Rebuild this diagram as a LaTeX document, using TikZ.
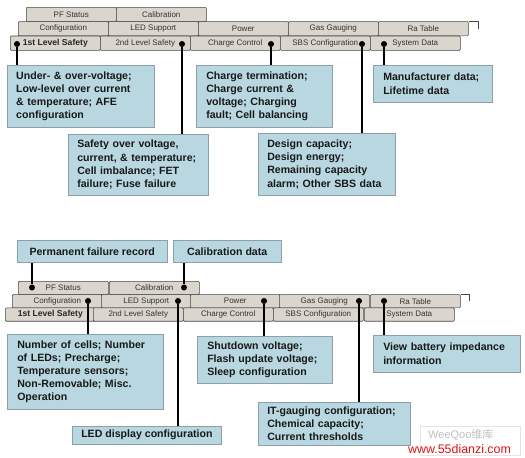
\documentclass[tikz,border=0pt]{standalone}
\usepackage{fontspec}
\setmainfont{Liberation Sans}
\newfontfamily\cjk{Noto Sans CJK SC}
\definecolor{boxblue}{RGB}{184,215,224}
\definecolor{boxedge}{RGB}{140,160,168}
\definecolor{tabgray}{RGB}{218,214,206}
\definecolor{tabedge}{RGB}{70,70,70}
\definecolor{inktext}{RGB}{25,25,25}
\definecolor{wmred}{RGB}{220,20,20}
\begin{document}
\begin{tikzpicture}[x=1pt,y=-1pt,
  tab/.style={draw=tabedge, line width=0.6pt, fill=tabgray, minimum width=90pt, minimum height=#1, inner sep=0pt, anchor=north west, rounded corners=1pt, font=\fontsize{8}{9}\selectfont, text=black!80},
  tab/.default=14.3pt,
  tabbold/.style={tab=#1, font=\bfseries\fontsize{8.6}{9}\selectfont, text=black!85},
  tabbold/.default=14.3pt,
  info/.style={draw=boxedge, line width=0.5pt, fill=boxblue, anchor=north west, inner xsep=9pt, inner ysep=3pt, align=left, font=\bfseries\fontsize{10.6}{13.2}\selectfont, text=inktext},
  blackdot/.style={circle, fill=black, inner sep=0pt, minimum size=6pt},
  link/.style={draw=black, line width=1.1pt},
  stub/.style={draw=tabedge, line width=0.6pt}
]
\useasboundingbox[fill=white] (0,0) rectangle (525,458);

% ================= upper tab set =================
\node[tab] (tpf)  at (26,7) {PF Status};
\node[tab] (tcal) at (116,7) {Calibration};
\node[tab] (tconf) at (18,21.3) {Configuration};
\node[tab] (tled)  at (108,21.3) {LED Support};
\node[tab] (tpow)  at (198,21.3) {Power};
\node[tab] (tgas)  at (288,21.3) {Gas Gauging};
\node[tab] (tra)   at (378,21.3) {Ra Table};
\draw[stub] (tra.north east) -- ++(10,0) -- ++(0,8);
\node[tabbold] (tfirst)  at (10,35.7) {1st Level Safety};
\node[tab] (tsecond) at (100,35.7) {2nd Level Safety};
\node[tab] (tcharge) at (190,35.7) {Charge Control};
\node[tab] (tsbs)    at (280,35.7) {SBS Configuration};
\node[tab] (tsys)    at (370,35.7) {System Data};

\node[blackdot] (dfirst)  at (17,44) {};
\node[blackdot] (dsecond) at (182,44) {};
\node[blackdot] (dcharge) at (271,44) {};
\node[blackdot] (dsbs)    at (362,44) {};
\node[blackdot] (dsys)    at (384,44) {};

\node[info, minimum width=147pt, minimum height=62pt, text width=129pt] (bA) at (7,65)
  {Under- \& over-voltage;\\Low-level over current\\\& temperature; AFE\\configuration};
\node[info, minimum width=140pt, minimum height=61pt, text width=122pt] (bB) at (68,134)
  {Safety over voltage,\\current, \& temperature;\\Cell imbalance; FET\\failure; Fuse failure};
\node[info, minimum width=136pt, minimum height=62pt, inner xsep=10pt, text width=116pt] (bC) at (196,65)
  {Charge termination;\\Charge current \&\\voltage; Charging\\fault; Cell balancing};
\node[info, minimum width=137pt, minimum height=62pt, text width=119pt] (bD) at (258,133)
  {Design capacity;\\Design energy;\\Remaining capacity\\alarm; Other SBS data};
\node[info, minimum width=119pt, minimum height=37pt, inner xsep=10pt, text width=99pt] (bE) at (373,65)
  {Manufacturer data;\\Lifetime data};

\draw[link] (dfirst)  -- (dfirst |- bA.north);
\draw[link] (dsecond) -- (dsecond |- bB.north);
\draw[link] (dcharge) -- (dcharge |- bC.north);
\draw[link] (dsbs)    -- (dsbs |- bD.north);
\draw[link] (dsys)    -- (dsys |- bE.north);

% ================= lower tab set =================
\node[info, minimum width=150pt, minimum height=22pt] (bP) at (17,240)
  {Permanent failure record};
\node[info, minimum width=108pt, minimum height=22pt] (bQ) at (173,240)
  {Calibration data};

\node[tab=13.3pt] (upf)  at (18,281) {PF Status};
\node[tab=13.3pt] (ucal) at (109,281) {Calibration};
\node[tab=13.3pt] (uconf) at (12,294.3) {Configuration};
\node[tab=13.3pt] (uled)  at (101,294.3) {LED Support};
\node[tab=13.3pt] (upow)  at (190,294.3) {Power};
\node[tab=13.3pt] (ugas)  at (279,294.3) {Gas Gauging};
\node[tab=13.3pt] (ura)   at (370,294.3) {Ra Table};
\draw[stub] (ura.north east) -- ++(9,0) -- ++(0,7);
\node[tabbold=13.3pt] (ufirst)  at (5,307.6) {1st Level Safety};
\node[tab=13.3pt] (usecond) at (93,307.6) {2nd Level Safety};
\node[tab=13.3pt] (ucharge) at (183,307.6) {Charge Control};
\node[tab=13.3pt] (usbs)    at (273,307.6) {SBS Configuration};
\node[tab=13.3pt] (usys)    at (364,307.6) {System Data};

\node[blackdot] (dupf)  at (32,287.5) {};
\node[blackdot] (ducal) at (184,287.5) {};
\node[blackdot] (duconf) at (88,301) {};
\node[blackdot] (duled)  at (178,301) {};
\node[blackdot] (dupow)  at (264,301) {};
\node[blackdot] (dugas)  at (359,301) {};
\node[blackdot] (dura)   at (384,301) {};

\node[info, minimum width=156pt, minimum height=75pt, text width=136pt, inner xsep=10pt] (bN) at (7,334)
  {Number of cells; Number\\of LEDs; Precharge;\\Temperature sensors;\\Non-Removable; Misc.\\Operation};
\node[info, minimum width=148pt, minimum height=18pt, inner ysep=1pt] (bL) at (72,426)
  {LED display configuration};
\node[info, minimum width=135pt, minimum height=47pt, inner xsep=10pt, text width=115pt] (bS) at (197,336)
  {Shutdown voltage;\\Flash update voltage;\\Sleep configuration};
\node[info, minimum width=152pt, minimum height=43pt, text width=134pt] (bI) at (258,402)
  {IT-gauging configuration;\\Chemical capacity;\\Current thresholds};
\node[info, minimum width=147pt, minimum height=37pt, text width=127pt, inner xsep=10pt] (bV) at (373,335)
  {View battery impedance\\information};

\draw[link] (bP.south -| dupf)  -- (dupf);
\draw[link] (bQ.south -| ducal) -- (ducal);
\draw[link] (duconf) -- (duconf |- bN.north);
\draw[link] (duled)  -- (duled |- bL.north);
\draw[link] (dupow)  -- (dupow |- bS.north);
\draw[link] (dugas)  -- (dugas |- bI.north);
\draw[link] (dura)   -- (dura |- bV.north);

% ================= watermark =================
\node[draw=black!10, minimum width=100pt, minimum height=29pt, anchor=north west, inner sep=0pt] (wmbox) at (420,426) {};
\node[anchor=west, inner sep=0pt, text=black!25, font=\fontsize{11}{11}\selectfont] (wmlogo) at (428,434.5) {WeeQoo\cjk 维库};
\node[anchor=west, inner sep=0pt, text=wmred, font=\fontsize{12.4}{13}\selectfont] (wmurl) at (408,449) {www.55dianzi.com};
\end{tikzpicture}
\end{document}
